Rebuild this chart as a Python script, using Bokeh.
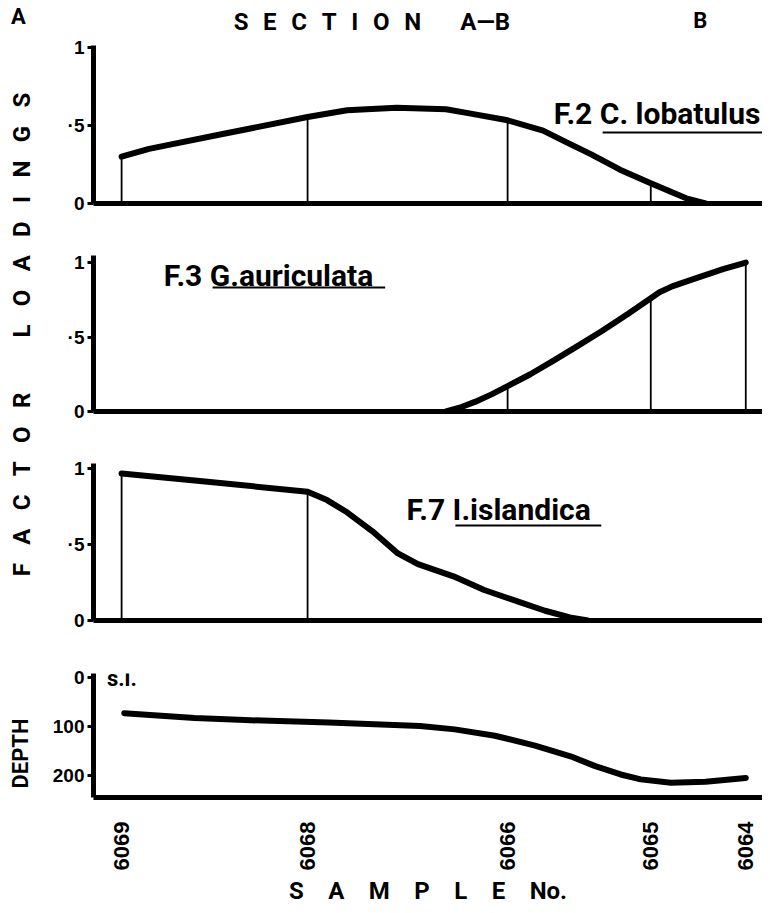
import math
from bokeh.plotting import figure
from bokeh.models import Range1d, Label, BoxAnnotation, FixedTicker, CustomJSTickFormatter
from bokeh.layouts import row, column
from bokeh.embed import file_html
from bokeh.resources import INLINE

# ---------------- data ----------------
sample_labels = ["6069", "6068", "6066", "6065", "6064"]
sample_pos = [4.2, 32.0, 61.9, 83.3, 97.5]          # distance along section A-B

# factor loadings at each sample (vertical stems)
f2_load = [0.30, 0.54, 0.53, 0.13, 0.0]
f3_load = [0.0, 0.0, 0.17, 0.76, 1.0]
f7_load = [0.97, 0.83, 0.0, 0.0, 0.0]

# hand-drawn loading curves
f2_x = [4.2, 8.3, 19.3, 32.0, 37.9, 45.3, 52.7, 56.4, 61.9, 67.2, 70.8, 74.4,
        78.7, 83.3, 88.6, 91.5]
f2_y = [0.30, 0.35, 0.445, 0.554, 0.598, 0.613, 0.604, 0.576, 0.533, 0.467,
        0.39, 0.315, 0.217, 0.13, 0.033, 0.0]
f3_x = [52.7, 55.0, 57.1, 59.5, 61.9, 65.3, 68.7, 72.4, 76.0, 79.7, 83.3, 84.6,
        86.5, 89.1, 94.1, 97.5]
f3_y = [0.0, 0.03, 0.066, 0.115, 0.17, 0.25, 0.34, 0.44, 0.54, 0.65, 0.76,
        0.80, 0.84, 0.88, 0.955, 1.0]
f7_x = [4.2, 15.9, 32.0, 34.9, 37.9, 41.7, 45.5, 48.5, 53.8, 58.4, 63.7, 67.5,
        71.2, 73.9]
f7_y = [0.965, 0.915, 0.845, 0.79, 0.71, 0.585, 0.44, 0.37, 0.29, 0.20, 0.12,
        0.064, 0.02, 0.0]

# water depth (m) along the section
depth_x = [4.6, 15.1, 22.6, 35.2, 48.8, 54.0, 60.0, 66.0, 71.3, 75.0, 78.8,
           81.8, 86.3, 91.5, 97.5]
depth_y = [73, 83, 87, 92, 99, 106, 119, 139, 161, 181, 198, 208, 215, 213, 205]

loading_ticks = [0, 0.5, 1]
depth_ticks = [0, 100, 200]

# ---------------- styling ----------------
FONT = "Roboto"
NUMFONT = "Liberation Sans"
STRIP_W = 44
W = 718
LEFT = 49
EM = "\u2003"
GAP = "\u2002\u2005"
TGAP = "\u2002\u200a"

xr = Range1d(0, 100)


def base(height, top, bottom, yr, bounds=None):
    p = figure(width=W, height=height, x_range=xr, y_range=yr,
               output_backend="svg", toolbar_location=None,
               min_border_left=LEFT, min_border_right=0,
               min_border_top=top, min_border_bottom=bottom)
    p.outline_line_color = None
    p.grid.visible = False
    p.background_fill_color = "white"
    p.border_fill_color = "white"
    for ax in p.yaxis:
        if bounds is not None:
            ax.bounds = bounds
        ax.axis_line_width = 5
        ax.axis_line_color = "black"
        ax.major_tick_out = 6
        ax.major_tick_in = 0
        ax.major_tick_line_width = 3
        ax.minor_tick_line_color = None
        ax.major_label_text_font = NUMFONT
        ax.major_label_text_font_style = "bold"
        ax.major_label_text_font_size = "19px"
        ax.major_label_text_color = "black"
        ax.major_label_standoff = 3
    for ax in p.xaxis:
        ax.axis_line_width = 5
        ax.axis_line_color = "black"
        ax.major_tick_line_color = None
        ax.minor_tick_line_color = None
    return p


def loading_panel(height, top, bottom, yend, cx, cy, load, bounds=None):
    p = base(height, top, bottom, Range1d(0, yend), bounds)
    p.yaxis.ticker = FixedTicker(ticks=loading_ticks)
    p.yaxis.formatter = CustomJSTickFormatter(
        code="return tick == 0.5 ? '\u00b75' : tick.toFixed(0);")
    p.xaxis.ticker = FixedTicker(ticks=[])
    p.segment(x0=sample_pos, y0=[0] * len(sample_pos), x1=sample_pos, y1=load,
              line_width=1.8, line_color="black")
    p.line(cx, cy, line_width=6, line_color="black", line_cap="round",
           line_join="round")
    return p


def lab(p, x, y, text, size, align="left", baseline="middle", angle=0.0,
        font=FONT):
    p.add_layout(Label(x=x, y=y, text=text, text_font=font,
                       text_font_style="bold", text_font_size=size,
                       text_align=align, text_baseline=baseline, angle=angle,
                       text_color="black"))


def underline(p, x0, x1, y0, y1):
    p.add_layout(BoxAnnotation(left=x0, right=x1, bottom=y0, top=y1,
                               fill_color="black", fill_alpha=1.0,
                               line_color=None))


# panel 1 : F.2  (range extended upward to hold the section title)
p1 = loading_panel(232, 2, 29, 1.288, f2_x, f2_y, f2_load, bounds=(0, 1.013))
lab(p1, 41.6, 1.16, TGAP.join("SECTION") + EM + TGAP + "A\u2014B", "24px",
    align="center")
lab(p1, 90.7, 1.173, "B", "22px", align="center")
lab(p1, 68.8, 0.577, "F.2 C. lobatulus", "30px")
underline(p1, 76.1, 100, 0.449, 0.462)

# panel 2 : F.3
p2 = loading_panel(213, 23, 34, 1.047, f3_x, f3_y, f3_load)
lab(p2, 10.5, 0.913, "F.3 G.auriculata", "30px")
underline(p2, 17.8, 43.6, 0.826, 0.839)

# panel 3 : F.7
p3 = loading_panel(195, 18, 20, 1.03, f7_x, f7_y, f7_load)
lab(p3, 46.8, 0.727, "F.7 I.islandica", "30px")
underline(p3, 54.1, 75.9, 0.617, 0.630)

# panel 4 : depth
p4 = base(271, 33, 114, Range1d(245, -8))
p4.yaxis.ticker = FixedTicker(ticks=depth_ticks)
p4.xaxis.ticker = FixedTicker(ticks=sample_pos)
p4.xaxis.formatter = CustomJSTickFormatter(
    args=dict(pos=sample_pos, lab=sample_labels),
    code="""
    for (let i = 0; i < pos.length; i++) {
        if (Math.abs(pos[i] - tick) < 1e-6) { return lab[i]; }
    }
    return '';
""")
p4.xaxis.major_label_orientation = math.pi / 2
p4.xaxis.major_label_text_font = NUMFONT
p4.xaxis.major_label_text_font_style = "bold"
p4.xaxis.major_label_text_font_size = "22px"
p4.xaxis.major_label_text_color = "black"
p4.xaxis.major_label_standoff = 18
p4.xaxis.axis_label = EM.join("SAMPLE") + EM + "No."
p4.xaxis.axis_label_text_font = FONT
p4.xaxis.axis_label_text_font_style = "bold"
p4.xaxis.axis_label_text_font_size = "24px"
p4.xaxis.axis_label_text_color = "black"
p4.xaxis.axis_label_standoff = 4
p4.line(depth_x, depth_y, line_width=6, line_color="black",
        line_cap="round", line_join="round")
lab(p4, 2.0, 2, "s.l.", "22px")

# left strip with the vertical captions
H = 232 + 213 + 195 + 271
strip = figure(width=STRIP_W, height=H, x_range=Range1d(0, STRIP_W),
               y_range=Range1d(H, 0), output_backend="svg",
               toolbar_location=None, x_axis_location=None,
               y_axis_location=None, min_border=0)
strip.outline_line_color = None
strip.grid.visible = False
lab(strip, 18, 16, "A", "22px", align="center")
lab(strip, 21, 334,
    GAP.join("FACTOR") + EM + EM + "\u2005" + GAP.join("LOADINGS"), "24px",
    align="center", angle=math.pi / 2)
lab(strip, 20, 753, "DEPTH", "22px", align="center", angle=math.pi / 2)

layout = row(strip, column(p1, p2, p3, p4, spacing=0), spacing=0)

open("out.html", "w").write(file_html(layout, INLINE))
